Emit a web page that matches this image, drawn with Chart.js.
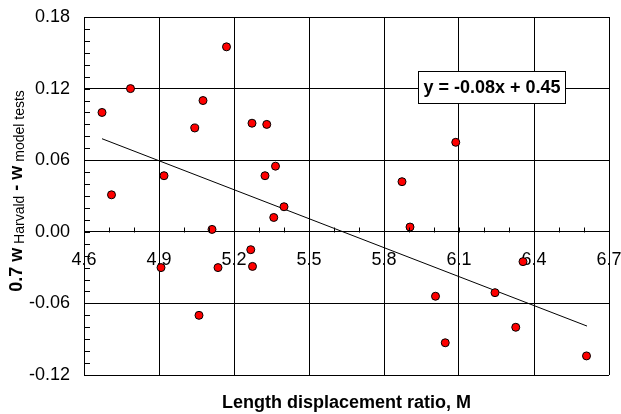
<!DOCTYPE html>
<html>
<head>
<meta charset="utf-8">
<script src="https://cdn.jsdelivr.net/npm/chart.js@4.4.1/dist/chart.umd.min.js"></script>
<style>
    html, body { margin: 0; padding: 0; background: #fff; }
    #wrap { width: 621px; height: 414px; }
</style>
</head>
<body>
<div id="wrap"><canvas id="chart" width="621" height="414"></canvas></div>
<script>
// values
const ratioM = [4.672, 4.786, 4.710, 4.920, 5.043, 5.076, 5.170, 5.272, 5.331, 5.366,
    5.324, 5.400, 6.087, 5.872, 5.359, 5.112, 5.267, 5.274, 5.136, 4.908,
    5.060, 5.904, 6.356, 6.006, 6.244, 6.327, 6.045, 6.610];
const wDiff = [0.100, 0.120, 0.031, 0.047, 0.087, 0.110, 0.155, 0.091, 0.090, 0.055,
    0.047, 0.021, 0.075, 0.042, 0.012, 0.002, -0.015, -0.029, -0.030, -0.030,
    -0.070, 0.004, -0.025, -0.054, -0.051, -0.080, -0.093, -0.104];

const trendX = [4.672, 6.612];
const trendY = [0.078, -0.079];
const trendLabel = 'y = -0.08x + 0.45';

const xTicks = [4.6, 4.9, 5.2, 5.5, 5.8, 6.1, 6.4, 6.7];
const yTicks = [-0.12, -0.06, 0.00, 0.06, 0.12, 0.18];

const FONT = '"Liberation Sans", Arial, sans-serif';

const scatterData = ratioM.map((x, i) => ({ x: x, y: wDiff[i] }));
const trendData = trendX.map((x, i) => ({ x: x, y: trendY[i] }));

// minor ticks, axis titles and the equation box
const extrasPlugin = {
    id: 'extras',
    afterDraw(chart) {
        const ctx = chart.ctx;
        const area = chart.chartArea;
        const xs = chart.scales.x;
        const ys = chart.scales.y;
        const y0 = Math.round(ys.getPixelForValue(0)) + 0.5;

        ctx.save();
        ctx.strokeStyle = '#000';
        ctx.lineWidth = 1;
        ctx.beginPath();
        for (let v = -12; v <= 18; v++) {
            const py = Math.round(ys.getPixelForValue(v / 100)) + 0.5;
            ctx.moveTo(area.left, py);
            ctx.lineTo(area.left + 6, py);
        }
        for (let v = 46; v <= 67; v++) {
            const px = Math.round(xs.getPixelForValue(v / 10)) + 0.5;
            ctx.moveTo(px, y0);
            ctx.lineTo(px, y0 - 5);
        }
        ctx.stroke();

        // x title
        ctx.fillStyle = '#000';
        ctx.font = 'bold 18px ' + FONT;
        ctx.textAlign = 'center';
        ctx.textBaseline = 'alphabetic';
        ctx.fillText('Length displacement ratio, M', (area.left + area.right) / 2, 408);

        // y title with subscripts
        const parts = [
            { t: '0.7 w', f: 'bold 18px ' + FONT, dy: 0 },
            { t: ' Harvald', f: '14px ' + FONT, dy: 2 },
            { t: ' - w', f: 'bold 18px ' + FONT, dy: 0 },
            { t: ' model tests', f: '14px ' + FONT, dy: 2 }
        ];
        let total = 0;
        parts.forEach(p => { ctx.font = p.f; p.w = ctx.measureText(p.t).width; total += p.w; });
        ctx.translate(22, 191);
        ctx.rotate(-Math.PI / 2);
        ctx.textAlign = 'left';
        let cx = -total / 2;
        parts.forEach(p => {
            ctx.font = p.f;
            ctx.fillText(p.t, cx, p.dy);
            cx += p.w;
        });
        ctx.restore();

        // equation box
        ctx.save();
        ctx.font = 'bold 18px ' + FONT;
        const tw = ctx.measureText(trendLabel).width;
        const bx = 418.5, by = 71.5, bw = Math.round(tw + 10), bh = 32;
        ctx.fillStyle = '#fff';
        ctx.fillRect(bx, by, bw, bh);
        ctx.strokeStyle = '#000';
        ctx.lineWidth = 1;
        ctx.strokeRect(bx, by, bw, bh);
        ctx.fillStyle = '#000';
        ctx.textAlign = 'center';
        ctx.textBaseline = 'middle';
        ctx.fillText(trendLabel, bx + bw / 2, by + bh / 2 + 1);
        ctx.restore();
    }
};

new Chart(document.getElementById('chart'), {
    type: 'scatter',
    data: {
        datasets: [
            {
                data: scatterData,
                backgroundColor: '#ff0000',
                borderColor: '#000',
                borderWidth: 1,
                pointRadius: 4
            },
            {
                type: 'line',
                data: trendData,
                borderColor: '#000',
                borderWidth: 1,
                pointRadius: 0,
                fill: false
            }
        ]
    },
    options: {
        responsive: false,
        animation: false,
        layout: { padding: { left: 0, right: 12, top: 17, bottom: 39 } },
        plugins: {
            legend: { display: false },
            tooltip: { enabled: false }
        },
        scales: {
            x: {
                type: 'linear',
                position: { y: 0 },
                min: 4.6,
                max: 6.7,
                afterBuildTicks: s => { s.ticks = xTicks.map(v => ({ value: v })); },
                afterFit: s => {
                    s.paddingLeft = 0; s.paddingRight = 0;
                    s.paddingTop = 0; s.paddingBottom = 0;
                },
                grid: { color: '#000', lineWidth: 1, drawTicks: false },
                border: { color: '#000', width: 1 },
                ticks: {
                    padding: 17,
                    color: '#000',
                    font: { family: FONT, size: 18 },
                    callback: v => v.toFixed(1)
                }
            },
            y: {
                min: -0.12,
                max: 0.18,
                afterBuildTicks: s => { s.ticks = yTicks.map(v => ({ value: v })); },
                afterFit: s => { s.width = 84; s.paddingTop = 0; s.paddingBottom = 0; },
                grid: { color: '#000', lineWidth: 1, drawTicks: false },
                border: { color: '#000', width: 1 },
                ticks: {
                    padding: 14,
                    color: '#000',
                    font: { family: FONT, size: 18 },
                    callback: v => v.toFixed(2)
                }
            }
        }
    },
    plugins: [extrasPlugin]
});
</script>
</body>
</html>
